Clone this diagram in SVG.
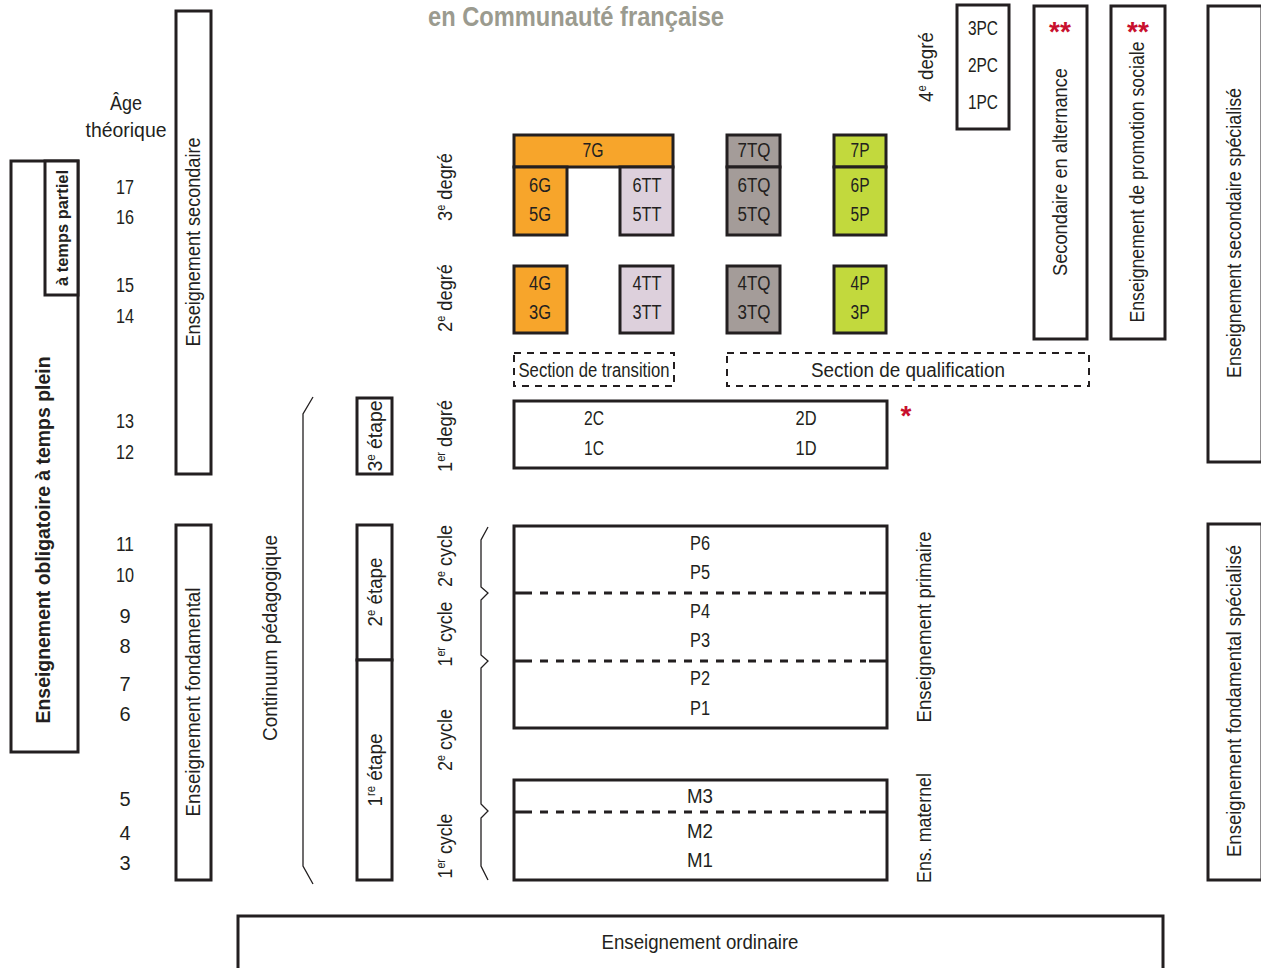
<svg xmlns="http://www.w3.org/2000/svg" width="1261" height="968" viewBox="0 0 1261 968">
<style>
text{font-family:"Liberation Sans",Arial,sans-serif;font-size:20px;fill:#231F20}
.c{text-anchor:middle}
.b{font-weight:bold}
.box{fill:#fff;stroke:#231F20;stroke-width:3}
.nb{fill:none;stroke:#231F20;stroke-width:3}
.dash{fill:none;stroke:#231F20;stroke-width:2;stroke-dasharray:7 6}
.dl{fill:none;stroke:#231F20;stroke-width:3;stroke-dasharray:8 8}
.br{fill:none;stroke:#231F20;stroke-width:1.3}
.or{fill:#F7A52B;stroke:#231F20;stroke-width:3}
.pk{fill:#DDD0DC;stroke:#231F20;stroke-width:3}
.gr{fill:#A49C99;stroke:#231F20;stroke-width:3}
.gn{fill:#C2D93D;stroke:#231F20;stroke-width:3}
.red{fill:#C8102E;font-weight:bold;font-size:28px}
.sup{font-size:12px}
</style>
<rect width="1261" height="968" fill="#fff"/>
<text id="title" x="576" y="26" class="c b" style="font-size:27px;fill:#9B9B8F" textLength="296" lengthAdjust="spacingAndGlyphs">en Communauté française</text>

<g id="ages">
<text x="126" y="110" class="c" textLength="32" lengthAdjust="spacingAndGlyphs">Âge</text>
<text x="126" y="137" class="c" textLength="81" lengthAdjust="spacingAndGlyphs">théorique</text>
<text x="125" y="194" class="c" textLength="18" lengthAdjust="spacingAndGlyphs">17</text>
<text x="125" y="224" class="c" textLength="18" lengthAdjust="spacingAndGlyphs">16</text>
<text x="125" y="292" class="c" textLength="18" lengthAdjust="spacingAndGlyphs">15</text>
<text x="125" y="323" class="c" textLength="18" lengthAdjust="spacingAndGlyphs">14</text>
<text x="125" y="428" class="c" textLength="18" lengthAdjust="spacingAndGlyphs">13</text>
<text x="125" y="459" class="c" textLength="18" lengthAdjust="spacingAndGlyphs">12</text>
<text x="125" y="551" class="c" textLength="18" lengthAdjust="spacingAndGlyphs">11</text>
<text x="125" y="582" class="c" textLength="18" lengthAdjust="spacingAndGlyphs">10</text>
<text x="125" y="623" class="c">9</text>
<text x="125" y="653" class="c">8</text>
<text x="125" y="691" class="c">7</text>
<text x="125" y="721" class="c">6</text>
<text x="125" y="806" class="c">5</text>
<text x="125" y="840" class="c">4</text>
<text x="125" y="870" class="c">3</text>
</g>

<g id="obligatoire">
<rect class="box" x="11" y="161" width="67" height="591"/>
<text class="c b" transform="translate(50,540) rotate(-90)" textLength="367" lengthAdjust="spacingAndGlyphs">Enseignement obligatoire à temps plein</text>
</g>
<g id="temps-partiel">
<rect class="box" x="45" y="161" width="33" height="134"/>
<text class="c b" style="font-size:17px" transform="translate(68,228) rotate(-90)" textLength="116" lengthAdjust="spacingAndGlyphs">à temps partiel</text>
</g>

<g id="ens-secondaire">
<rect class="box" x="176" y="11" width="35" height="463"/>
<text class="c" transform="translate(200,242) rotate(-90)" textLength="209" lengthAdjust="spacingAndGlyphs">Enseignement secondaire</text>
</g>
<g id="ens-fondamental">
<rect class="box" x="176" y="525" width="35" height="355"/>
<text class="c" transform="translate(200,702) rotate(-90)" textLength="229" lengthAdjust="spacingAndGlyphs">Enseignement fondamental</text>
</g>

<g id="continuum">
<text class="c" transform="translate(277,638) rotate(-90)" textLength="206" lengthAdjust="spacingAndGlyphs">Continuum pédagogique</text>
</g>

<g id="etape3">
<rect class="box" x="357" y="398" width="35" height="76"/>
<text class="c" transform="translate(382,436) rotate(-90)" textLength="71" lengthAdjust="spacingAndGlyphs">3<tspan class="sup" dy="-7">e</tspan><tspan dy="7"> étape</tspan></text>
</g>
<g id="etape2">
<rect class="box" x="357" y="525" width="35" height="135"/>
<text class="c" transform="translate(382,592) rotate(-90)" textLength="69" lengthAdjust="spacingAndGlyphs">2<tspan class="sup" dy="-7">e</tspan><tspan dy="7"> étape</tspan></text>
</g>
<g id="etape1">
<rect class="box" x="357" y="660" width="35" height="220"/>
<text class="c" transform="translate(382,770) rotate(-90)" textLength="73" lengthAdjust="spacingAndGlyphs">1<tspan class="sup" dy="-7">re</tspan><tspan dy="7"> étape</tspan></text>
</g>

<g id="degres">
<text class="c" transform="translate(933,67) rotate(-90)" textLength="70" lengthAdjust="spacingAndGlyphs">4<tspan class="sup" dy="-7">e</tspan><tspan dy="7"> degré</tspan></text>
<text class="c" transform="translate(452,187) rotate(-90)" textLength="68" lengthAdjust="spacingAndGlyphs">3<tspan class="sup" dy="-7">e</tspan><tspan dy="7"> degré</tspan></text>
<text class="c" transform="translate(452,298) rotate(-90)" textLength="68" lengthAdjust="spacingAndGlyphs">2<tspan class="sup" dy="-7">e</tspan><tspan dy="7"> degré</tspan></text>
<text class="c" transform="translate(452,436) rotate(-90)" textLength="72" lengthAdjust="spacingAndGlyphs">1<tspan class="sup" dy="-7">er</tspan><tspan dy="7"> degré</tspan></text>
<text class="c" transform="translate(452,556) rotate(-90)" textLength="62" lengthAdjust="spacingAndGlyphs">2<tspan class="sup" dy="-7">e</tspan><tspan dy="7"> cycle</tspan></text>
<text class="c" transform="translate(452,634) rotate(-90)" textLength="65" lengthAdjust="spacingAndGlyphs">1<tspan class="sup" dy="-7">er</tspan><tspan dy="7"> cycle</tspan></text>
<text class="c" transform="translate(452,740) rotate(-90)" textLength="62" lengthAdjust="spacingAndGlyphs">2<tspan class="sup" dy="-7">e</tspan><tspan dy="7"> cycle</tspan></text>
<text class="c" transform="translate(452,846) rotate(-90)" textLength="65" lengthAdjust="spacingAndGlyphs">1<tspan class="sup" dy="-7">er</tspan><tspan dy="7"> cycle</tspan></text>
</g>

<g id="connectors">
<path class="br" d="M313,397 L303,414 L303,866 L313,884"/>
<path class="br" d="M488,527 L481,540 L481,587 L488,593 L481,600 L481,655 L488,661 L481,668 L481,804 L488,811 L481,818 L481,866 L488,880"/>
</g>

<g id="g7">
<rect class="or" x="514" y="135" width="159" height="32"/>
<text class="c" x="593" y="157" textLength="21" lengthAdjust="spacingAndGlyphs">7G</text>
</g>
<g id="g65">
<rect class="or" x="514" y="167" width="53" height="68"/>
<text class="c" x="540" y="192" textLength="22" lengthAdjust="spacingAndGlyphs">6G</text>
<text class="c" x="540" y="221" textLength="22" lengthAdjust="spacingAndGlyphs">5G</text>
</g>
<g id="tt65">
<rect class="pk" x="620" y="167" width="53" height="68"/>
<text class="c" x="647" y="192" textLength="29" lengthAdjust="spacingAndGlyphs">6TT</text>
<text class="c" x="647" y="221" textLength="29" lengthAdjust="spacingAndGlyphs">5TT</text>
</g>
<g id="tq7">
<rect class="gr" x="727" y="135" width="53" height="32"/>
<text class="c" x="754" y="157" textLength="33" lengthAdjust="spacingAndGlyphs">7TQ</text>
</g>
<g id="tq65">
<rect class="gr" x="727" y="167" width="53" height="68"/>
<text class="c" x="754" y="192" textLength="33" lengthAdjust="spacingAndGlyphs">6TQ</text>
<text class="c" x="754" y="221" textLength="33" lengthAdjust="spacingAndGlyphs">5TQ</text>
</g>
<g id="p7">
<rect class="gn" x="834" y="135" width="52" height="32"/>
<text class="c" x="860" y="157" textLength="19" lengthAdjust="spacingAndGlyphs">7P</text>
</g>
<g id="p65">
<rect class="gn" x="834" y="167" width="52" height="68"/>
<text class="c" x="860" y="192" textLength="19" lengthAdjust="spacingAndGlyphs">6P</text>
<text class="c" x="860" y="221" textLength="19" lengthAdjust="spacingAndGlyphs">5P</text>
</g>
<g id="g43">
<rect class="or" x="514" y="266" width="53" height="67"/>
<text class="c" x="540" y="290" textLength="22" lengthAdjust="spacingAndGlyphs">4G</text>
<text class="c" x="540" y="319" textLength="22" lengthAdjust="spacingAndGlyphs">3G</text>
</g>
<g id="tt43">
<rect class="pk" x="620" y="266" width="53" height="67"/>
<text class="c" x="647" y="290" textLength="29" lengthAdjust="spacingAndGlyphs">4TT</text>
<text class="c" x="647" y="319" textLength="29" lengthAdjust="spacingAndGlyphs">3TT</text>
</g>
<g id="tq43">
<rect class="gr" x="727" y="266" width="53" height="67"/>
<text class="c" x="754" y="290" textLength="33" lengthAdjust="spacingAndGlyphs">4TQ</text>
<text class="c" x="754" y="319" textLength="33" lengthAdjust="spacingAndGlyphs">3TQ</text>
</g>
<g id="p43">
<rect class="gn" x="834" y="266" width="52" height="67"/>
<text class="c" x="860" y="290" textLength="19" lengthAdjust="spacingAndGlyphs">4P</text>
<text class="c" x="860" y="319" textLength="19" lengthAdjust="spacingAndGlyphs">3P</text>
</g>

<g id="section-transition">
<rect class="dash" x="514" y="353" width="160" height="33"/>
<text class="c" x="594" y="377" textLength="151" lengthAdjust="spacingAndGlyphs">Section de transition</text>
</g>
<g id="section-qualification">
<rect class="dash" x="727" y="353" width="362" height="33"/>
<text class="c" x="908" y="377" textLength="194" lengthAdjust="spacingAndGlyphs">Section de qualification</text>
</g>

<g id="degre1">
<rect class="box" x="514" y="401" width="373" height="67"/>
<text class="c" x="594" y="425" textLength="20" lengthAdjust="spacingAndGlyphs">2C</text>
<text class="c" x="594" y="455" textLength="20" lengthAdjust="spacingAndGlyphs">1C</text>
<text class="c" x="806" y="425" textLength="21" lengthAdjust="spacingAndGlyphs">2D</text>
<text class="c" x="806" y="455" textLength="21" lengthAdjust="spacingAndGlyphs">1D</text>
<text class="red" x="906" y="425" text-anchor="middle">*</text>
</g>

<g id="primaire">
<rect class="box" x="514" y="526" width="373" height="202"/>
<path class="nb" d="M514,593 H532 M869,593 H887 M514,661 H532 M869,661 H887"/>
<path class="dl" d="M540,593 H866 M540,661 H866"/>
<text class="c" x="700" y="550" textLength="20" lengthAdjust="spacingAndGlyphs">P6</text>
<text class="c" x="700" y="579" textLength="20" lengthAdjust="spacingAndGlyphs">P5</text>
<text class="c" x="700" y="618" textLength="20" lengthAdjust="spacingAndGlyphs">P4</text>
<text class="c" x="700" y="647" textLength="20" lengthAdjust="spacingAndGlyphs">P3</text>
<text class="c" x="700" y="685" textLength="20" lengthAdjust="spacingAndGlyphs">P2</text>
<text class="c" x="700" y="715" textLength="20" lengthAdjust="spacingAndGlyphs">P1</text>
<text class="c" transform="translate(931,627) rotate(-90)" textLength="191" lengthAdjust="spacingAndGlyphs">Enseignement primaire</text>
</g>

<g id="maternel">
<rect class="box" x="514" y="780" width="373" height="100"/>
<path class="nb" d="M514,812 H532 M869,812 H887"/>
<path class="dl" d="M540,812 H866"/>
<text class="c" x="700" y="803" textLength="26" lengthAdjust="spacingAndGlyphs">M3</text>
<text class="c" x="700" y="838" textLength="26" lengthAdjust="spacingAndGlyphs">M2</text>
<text class="c" x="700" y="867" textLength="26" lengthAdjust="spacingAndGlyphs">M1</text>
<text class="c" transform="translate(931,828) rotate(-90)" textLength="110" lengthAdjust="spacingAndGlyphs">Ens. maternel</text>
</g>

<g id="pc">
<rect class="box" x="957" y="5" width="52" height="124"/>
<text class="c" x="983" y="35" textLength="30" lengthAdjust="spacingAndGlyphs">3PC</text>
<text class="c" x="983" y="72" textLength="30" lengthAdjust="spacingAndGlyphs">2PC</text>
<text class="c" x="983" y="109" textLength="30" lengthAdjust="spacingAndGlyphs">1PC</text>
</g>
<g id="alternance">
<rect class="box" x="1034" y="6" width="53" height="333"/>
<text class="red" x="1060" y="41" text-anchor="middle">**</text>
<text class="c" transform="translate(1067,172) rotate(-90)" textLength="208" lengthAdjust="spacingAndGlyphs">Secondaire en alternance</text>
</g>
<g id="promotion-sociale">
<rect class="box" x="1111" y="6" width="54" height="333"/>
<text class="red" x="1138" y="41" text-anchor="middle">**</text>
<text class="c" transform="translate(1144,182) rotate(-90)" textLength="281" lengthAdjust="spacingAndGlyphs">Enseignement de promotion sociale</text>
</g>
<g id="secondaire-specialise">
<rect class="box" x="1208" y="6" width="54" height="456"/>
<text class="c" transform="translate(1241,233) rotate(-90)" textLength="290" lengthAdjust="spacingAndGlyphs">Enseignement secondaire spécialisé</text>
</g>
<g id="fondamental-specialise">
<rect class="box" x="1208" y="524" width="54" height="356"/>
<text class="c" transform="translate(1241,701) rotate(-90)" textLength="312" lengthAdjust="spacingAndGlyphs">Enseignement fondamental spécialisé</text>
</g>

<g id="ordinaire">
<rect class="box" x="238" y="916" width="925" height="60"/>
<text class="c" x="700" y="949" textLength="197" lengthAdjust="spacingAndGlyphs">Enseignement ordinaire</text>
</g>
</svg>
